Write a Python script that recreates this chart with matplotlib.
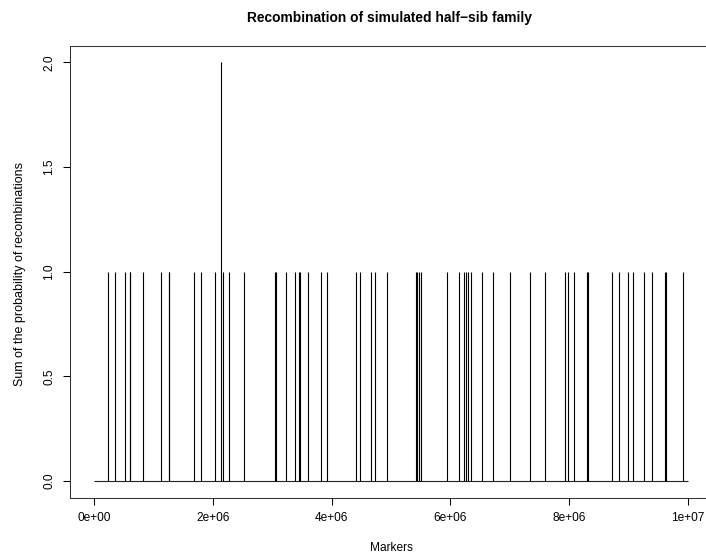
import matplotlib
matplotlib.use("Agg")
import matplotlib.pyplot as plt

plt.rcParams['font.family'] = ['Liberation Sans', 'DejaVu Sans']

# spike positions (bp) and summed recombination probability
positions = [0.230e6, 0.354e6, 0.522e6, 0.600e6, 0.612e6, 0.825e6, 1.128e6, 1.258e6, 1.268e6,
             1.684e6, 1.796e6, 2.037e6, 2.146e6, 2.166e6, 2.278e6, 2.525e6,
             3.047e6, 3.062e6, 3.237e6, 3.384e6, 3.456e6, 3.468e6, 3.603e6, 3.816e6, 3.923e6,
             4.405e6, 4.483e6, 4.658e6, 4.731e6, 4.933e6,
             5.415e6, 5.443e6, 5.471e6, 5.499e6, 5.943e6, 6.145e6, 6.229e6, 6.263e6, 6.291e6,
             6.352e6, 6.537e6, 6.711e6, 7.008e6, 7.334e6, 7.590e6,
             7.924e6, 7.974e6, 8.081e6, 8.300e6, 8.322e6, 8.715e6, 8.833e6, 8.984e6, 9.080e6,
             9.259e6, 9.388e6, 9.612e6, 9.624e6, 9.910e6]
recomb = [1] * len(positions)
recomb[positions.index(2.146e6)] = 2

marker_start = 0
marker_end = 1e7

xticks = [0, 2e6, 4e6, 6e6, 8e6, 1e7]
xtick_labels = ["0e+00", "2e+06", "4e+06", "6e+06", "8e+06", "1e+07"]
yticks = [0.0, 0.5, 1.0, 1.5, 2.0]
ytick_labels = ["0.0", "0.5", "1.0", "1.5", "2.0"]

W, H = 706, 558
fig = plt.figure(figsize=(W / 100, H / 100), dpi=100)

# R-style box, right edge falls just outside the picture
left, right, top, bottom = 70.2, 711.8, 45.6, 497.7
ax = fig.add_axes([left / W, 1 - bottom / H, (right - left) / W, (bottom - top) / H])

ax.hlines(0, marker_start, marker_end, color="#222222", lw=0.8)
ax.vlines(positions, 0, recomb, color="black", lw=0.8)

ax.set_xlim(-0.04e7, 1.04e7)
ax.set_ylim(-0.08, 2.08)

ax.set_xticks(xticks)
ax.set_xticklabels(xtick_labels)
ax.set_yticks(yticks)
ax.set_yticklabels(ytick_labels, rotation=90, va="center")

ax.tick_params(direction="out", length=5.2, width=0.75, labelsize=8.6, colors="black")
ax.tick_params(axis="x", pad=5.0)
ax.tick_params(axis="y", pad=5.5)
for s in ax.spines.values():
    s.set_linewidth(0.75)
    s.set_color("#333333")

fig.text(389 / W, 1 - 18 / H, "Recombination of simulated half\u2212sib family",
         ha="center", va="center", fontsize=9.9, fontweight="bold")
fig.text(391 / W, 1 - 548 / H, "Markers", ha="center", va="center", fontsize=8.6)
fig.text(20 / W, 1 - 274 / H, "Sum of the probability of recombinations",
         ha="center", va="center", rotation=90, fontsize=9.0)

fig.savefig("out.png", dpi=100)
